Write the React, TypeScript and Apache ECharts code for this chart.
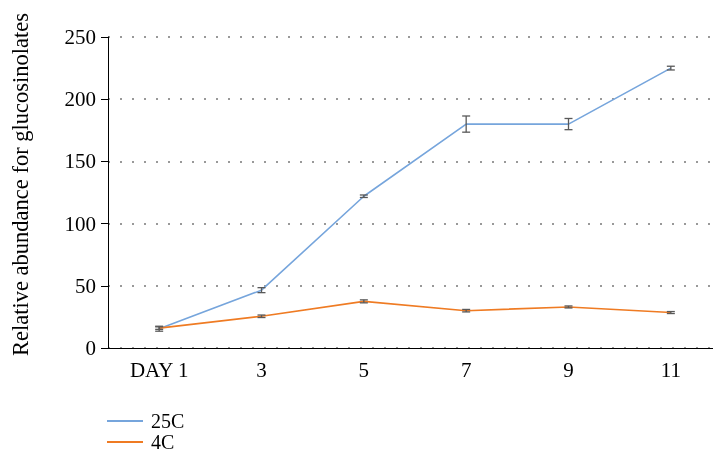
import React, { useEffect, useRef } from "react";
import * as echarts from "echarts";

const categories = ["DAY 1", "3", "5", "7", "9", "11"];
const series25C = [15.5, 46.5, 122, 180, 180, 225];
const err25C = [2, 2, 1, 6.5, 4.5, 1.5];
const series4C = [16, 25.5, 37.5, 30, 33, 28.5];
const err4C = [1, 1, 1.2, 1, 0.8, 0.8];
const yTicks = { min: 0, max: 250, interval: 50 };

const FONT = "Liberation Serif";

function errData(vals: number[], errs: number[]) {
  return vals.map((v, i) => [i, v - errs[i], v + errs[i]]);
}

function renderErr(params: any, api: any) {
  const x = api.value(0);
  const lo = api.coord([x, api.value(1)]);
  const hi = api.coord([x, api.value(2)]);
  const hw = 4;
  const style = { stroke: "#595959", lineWidth: 1.3 };
  return {
    type: "group",
    children: [
      { type: "line", shape: { x1: lo[0], y1: lo[1], x2: hi[0], y2: hi[1] }, style },
      { type: "line", shape: { x1: lo[0] - hw, y1: lo[1], x2: lo[0] + hw, y2: lo[1] }, style },
      { type: "line", shape: { x1: hi[0] - hw, y1: hi[1], x2: hi[0] + hw, y2: hi[1] }, style },
    ],
  };
}

const legendBase = {
  left: 102,
  padding: 5,
  itemWidth: 36,
  itemHeight: 2,
  icon: "rect",
  textStyle: { fontFamily: FONT, fontSize: 20, color: "#000", lineHeight: 20, padding: [0, 0, 0, 3] },
};

export default function App() {
  const ref = useRef<HTMLDivElement>(null);
  useEffect(() => {
    document.body.style.margin = "0";
    document.body.style.overflow = "hidden";
    const chart = echarts.init(ref.current!, null, { renderer: "svg" });
    chart.setOption({
      animation: false,
      textStyle: { fontFamily: FONT },
      grid: { left: 108, right: 8, top: 37, bottom: 105 },
      legend: [
        { ...legendBase, top: 406, data: ["25C"] },
        { ...legendBase, top: 427, data: ["4C"] },
      ],
      xAxis: {
        type: "category",
        data: categories,
        boundaryGap: true,
        axisLine: { lineStyle: { color: "#000", width: 1 } },
        axisTick: { alignWithLabel: true, length: 6, lineStyle: { color: "#000" } },
        axisLabel: { fontFamily: FONT, fontSize: 21, color: "#000", margin: 11 },
      },
      yAxis: {
        type: "value",
        min: yTicks.min,
        max: yTicks.max,
        interval: yTicks.interval,
        name: "Relative abundance for glucosinolates",
        nameLocation: "middle",
        nameGap: 76,
        nameRotate: 90,
        nameTextStyle: { fontFamily: FONT, fontSize: 22.5, color: "#000", padding: [0, 0, 0, 16] },
        axisLine: { show: true, lineStyle: { color: "#000", width: 1 } },
        axisTick: { show: true, length: 7, lineStyle: { color: "#000" } },
        axisLabel: { fontFamily: FONT, fontSize: 21, color: "#000", margin: 12 },
        splitLine: { show: true, lineStyle: { color: "#999", type: [2, 10], width: 2 } },
      },
      series: [
        {
          name: "25C",
          type: "line",
          data: series25C,
          symbol: "none",
          lineStyle: { color: "#76a5dc", width: 1.6 },
          itemStyle: { color: "#76a5dc" },
          z: 2,
        },
        {
          name: "4C",
          type: "line",
          data: series4C,
          symbol: "none",
          lineStyle: { color: "#ef7b23", width: 1.6 },
          itemStyle: { color: "#ef7b23" },
          z: 2,
        },
        {
          type: "custom",
          renderItem: renderErr,
          data: errData(series25C, err25C),
          encode: { x: 0, y: [1, 2] },
          z: 5,
          silent: true,
        },
        {
          type: "custom",
          renderItem: renderErr,
          data: errData(series4C, err4C),
          encode: { x: 0, y: [1, 2] },
          z: 5,
          silent: true,
        },
      ],
    });
    return () => chart.dispose();
  }, []);
  return (
    <div
      ref={ref}
      style={{ position: "fixed", left: 0, top: 0, width: 730, height: 453 }}
    />
  );
}
